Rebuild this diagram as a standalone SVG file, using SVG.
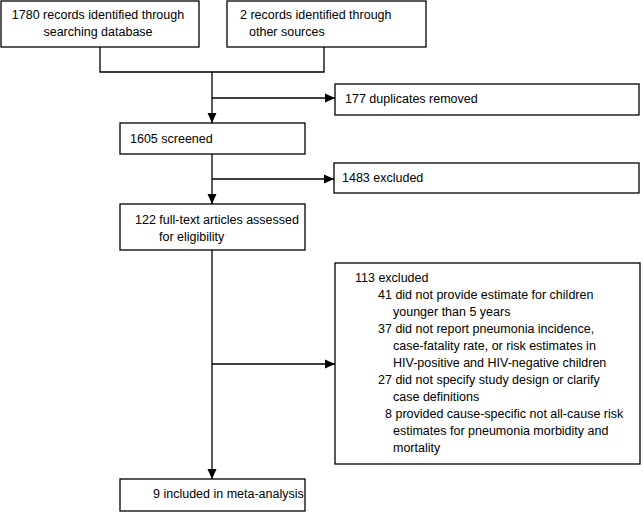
<svg xmlns="http://www.w3.org/2000/svg" width="643" height="512" viewBox="0 0 643 512">
<style>
.box{fill:#fff;stroke:#000;stroke-width:1.3}
.ln{fill:none;stroke:#000;stroke-width:1.3}
text{font-family:"Liberation Sans",Arial,sans-serif;font-size:12.5px;fill:#000}
</style>
<defs>
<marker id="ah" markerUnits="userSpaceOnUse" markerWidth="10" markerHeight="10" viewBox="0 0 10 10" refX="10" refY="5" orient="auto">
<path d="M0,0.5 L10,5 L0,9.5 Z" fill="#000"/>
</marker>
</defs>
<g id="connectors">
<path class="ln" d="M100,47 V72 H324 V47"/>
<path class="ln" d="M212,72 V123" marker-end="url(#ah)"/>
<path class="ln" d="M212,98 H335" marker-end="url(#ah)"/>
<path class="ln" d="M212,154 V204" marker-end="url(#ah)"/>
<path class="ln" d="M212,179 H334" marker-end="url(#ah)"/>
<path class="ln" d="M212,250 V479" marker-end="url(#ah)"/>
<path class="ln" d="M212,364 H335" marker-end="url(#ah)"/>
</g>
<g id="n1">
<rect class="box" x="1" y="1" width="198" height="46"/>
<text x="98" y="19" text-anchor="middle">1780 records identified through</text>
<text x="98" y="36" text-anchor="middle">searching database</text>
</g>
<g id="n2">
<rect class="box" x="227" y="1" width="199" height="46"/>
<text x="240" y="19">2 records identified through</text>
<text x="249" y="36">other sources</text>
</g>
<g id="n3">
<rect class="box" x="335" y="84" width="304" height="31"/>
<text x="345" y="103">177 duplicates removed</text>
</g>
<g id="n4">
<rect class="box" x="120" y="123" width="185" height="31"/>
<text x="130" y="143">1605 screened</text>
</g>
<g id="n5">
<rect class="box" x="334" y="163" width="305" height="30"/>
<text x="342" y="182">1483 excluded</text>
</g>
<g id="n6">
<rect class="box" x="120" y="204" width="185" height="46"/>
<text x="135" y="224">122 full-text articles assessed</text>
<text x="159" y="241">for eligibility</text>
</g>
<g id="n7">
<rect class="box" x="335" y="263" width="305" height="201"/>
<text x="355" y="282">113 excluded</text>
<text x="378" y="299">41 did not provide estimate for children</text>
<text x="393" y="316">younger than 5 years</text>
<text x="378" y="333">37 did not report pneumonia incidence,</text>
<text x="393" y="350">case-fatality rate, or risk estimates in</text>
<text x="393" y="367">HIV-positive and HIV-negative children</text>
<text x="378" y="384">27 did not specify study design or clarify</text>
<text x="393" y="401">case definitions</text>
<text x="385" y="418">8 provided cause-specific not all-cause risk</text>
<text x="393" y="435">estimates for pneumonia morbidity and</text>
<text x="393" y="452">mortality</text>
</g>
<g id="n8">
<rect class="box" x="120" y="479" width="185" height="32"/>
<text x="153" y="498">9 included in meta-analysis</text>
</g>
</svg>
